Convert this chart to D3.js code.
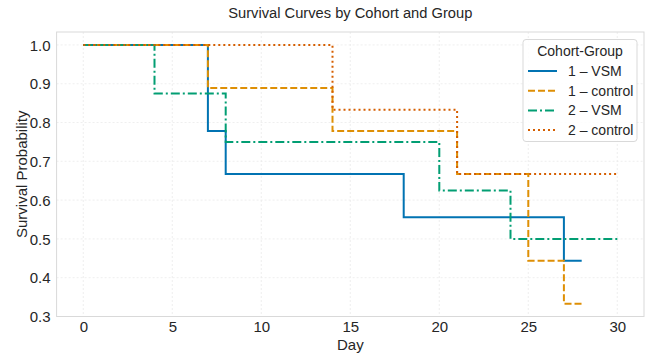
<!DOCTYPE html>
<html><head><meta charset="utf-8">
<script src="https://cdn.jsdelivr.net/npm/d3@7"></script>
<style>body{margin:0;background:#fff}svg{display:block}text{font-family:"Liberation Sans",Arial,sans-serif;fill:#262626}</style>
</head><body><svg id="c" width="649" height="354"></svg>
<script>
const seriesNames = ["1 \u2013 VSM", "1 \u2013 control", "2 \u2013 VSM", "2 \u2013 control"];
const times1VSM = [0, 7, 8, 18, 27, 28];
const surv1VSM = [1.0, 0.778, 0.667, 0.556, 0.444, 0.444];
const times1Ctrl = [0, 7, 14, 21, 25, 27, 28];
const surv1Ctrl = [1.0, 0.889, 0.778, 0.667, 0.444, 0.333, 0.333];
const times2VSM = [0, 4, 8, 20, 24, 30];
const surv2VSM = [1.0, 0.875, 0.75, 0.625, 0.5, 0.5];
const times2Ctrl = [0, 14, 21, 30];
const surv2Ctrl = [1.0, 0.833, 0.667, 0.667];
const xTicks = [0, 5, 10, 15, 20, 25, 30];
const yTicks = [0.3, 0.4, 0.5, 0.6, 0.7, 0.8, 0.9, 1.0];

const colors = ["#0173b2", "#de8f05", "#029e73", "#d55e00"];
const dashes = [null, "7,3", "9,3,2,3", "2,3"];
const allTimes = [times1VSM, times1Ctrl, times2VSM, times2Ctrl];
const allSurv = [surv1VSM, surv1Ctrl, surv2VSM, surv2Ctrl];

const svg = d3.select("#c");
const L = 56.6, R = 644, T = 32, B = 316.5;
const x = d3.scaleLinear().domain([-1.5, 31.5]).range([L, R]);
const y = d3.scaleLinear().domain([0.3, 1.0333]).range([B, T]);

// grid
const g = svg.append("g");
g.selectAll("line.vx").data(xTicks).join("line")
  .attr("x1", d => x(d)).attr("x2", d => x(d)).attr("y1", T).attr("y2", B)
  .attr("stroke", "#ebebeb").attr("stroke-width", 0.8).attr("stroke-dasharray", "2,2");
g.selectAll("line.hy").data(yTicks).join("line")
  .attr("y1", d => y(d)).attr("y2", d => y(d)).attr("x1", L).attr("x2", R)
  .attr("stroke", "#ebebeb").attr("stroke-width", 0.8).attr("stroke-dasharray", "2,2");

// axes
const xAxis = svg.append("g").attr("transform", `translate(0,${B})`)
  .call(d3.axisBottom(x).tickValues(xTicks).tickSize(0).tickPadding(5));
const yAxis = svg.append("g").attr("transform", `translate(${L},0)`)
  .call(d3.axisLeft(y).tickValues(yTicks).tickFormat(d3.format(".1f")).tickSize(0).tickPadding(6));
[xAxis, yAxis].forEach(a => {
  a.select(".domain").remove();
  a.selectAll("text").attr("font-size", 15).style("fill", "#262626")
    .attr("font-family", '"Liberation Sans",Arial,sans-serif');
});
yAxis.selectAll("text").attr("dy", "0.35em");

// spines
svg.append("rect").attr("x", L).attr("y", T).attr("width", R - L).attr("height", B - T)
  .attr("fill", "none").attr("stroke", "#d9d9d9").attr("stroke-width", 1);

// lines
const line = d3.line().x(d => x(d[0])).y(d => y(d[1])).curve(d3.curveStepAfter);
allTimes.forEach((ts, i) => {
  const pts = ts.map((t, j) => [t, allSurv[i][j]]);
  svg.append("path").datum(pts).attr("d", line)
    .attr("fill", "none").attr("stroke", colors[i]).attr("stroke-width", 2)
    .attr("stroke-dasharray", dashes[i]);
});

// labels
svg.append("text").attr("x", (L + R) / 2).attr("y", 18).attr("text-anchor", "middle")
  .attr("font-size", 14.7).text("Survival Curves by Cohort and Group");
svg.append("text").attr("x", (L + R) / 2).attr("y", 349.5).attr("text-anchor", "middle")
  .attr("font-size", 15).text("Day");
svg.append("text").attr("transform", `translate(27,${(T + B) / 2}) rotate(-90)`)
  .attr("text-anchor", "middle").attr("font-size", 15).text("Survival Probability");

// legend
const lg = svg.append("g");
lg.append("rect").attr("x", 523).attr("y", 39.5).attr("width", 114).attr("height", 102)
  .attr("rx", 3).attr("fill", "#fff").attr("fill-opacity", 0.85).attr("stroke", "#d9d9d9");
lg.append("text").attr("x", 580).attr("y", 56).attr("text-anchor", "middle")
  .attr("font-size", 14).text("Cohort-Group");
seriesNames.forEach((n, i) => {
  const yy = 71 + i * 19.7;
  lg.append("line").attr("x1", 528).attr("x2", 557).attr("y1", yy).attr("y2", yy)
    .attr("stroke", colors[i]).attr("stroke-width", 2).attr("stroke-dasharray", dashes[i]);
  lg.append("text").attr("x", 568).attr("y", yy + 5).attr("font-size", 14).text(n);
});
</script></body></html>
